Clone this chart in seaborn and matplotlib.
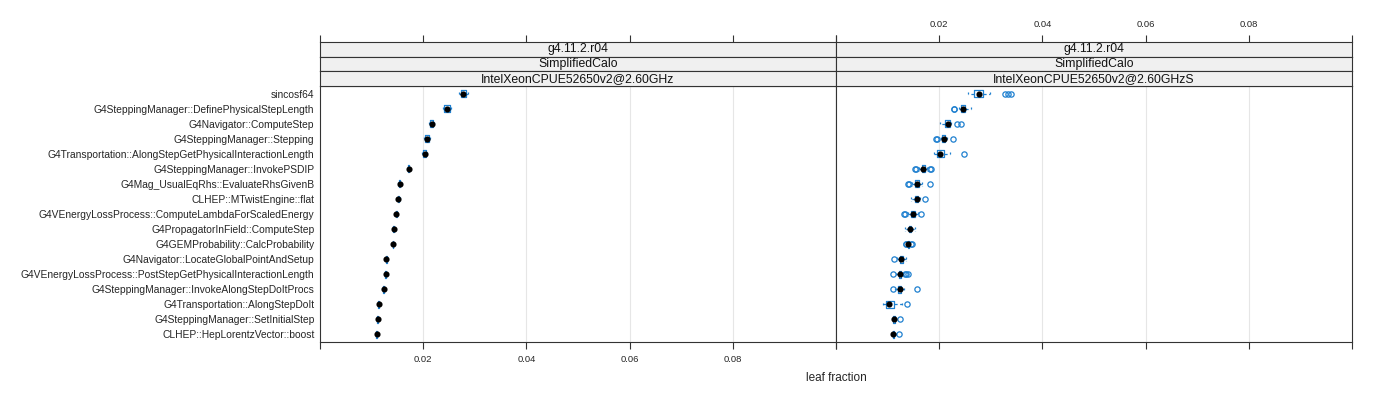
import numpy as np
import pandas as pd
import matplotlib
matplotlib.use("Agg")
import matplotlib.pyplot as plt
import seaborn as sns

# ---------------- data ----------------
functions = [
    "sincosf64",
    "G4SteppingManager::DefinePhysicalStepLength",
    "G4Navigator::ComputeStep",
    "G4SteppingManager::Stepping",
    "G4Transportation::AlongStepGetPhysicalInteractionLength",
    "G4SteppingManager::InvokePSDIP",
    "G4Mag_UsualEqRhs::EvaluateRhsGivenB",
    "CLHEP::MTwistEngine::flat",
    "G4VEnergyLossProcess::ComputeLambdaForScaledEnergy",
    "G4PropagatorInField::ComputeStep",
    "G4GEMProbability::CalcProbability",
    "G4Navigator::LocateGlobalPointAndSetup",
    "G4VEnergyLossProcess::PostStepGetPhysicalInteractionLength",
    "G4SteppingManager::InvokeAlongStepDoItProcs",
    "G4Transportation::AlongStepDoIt",
    "G4SteppingManager::SetInitialStep",
    "CLHEP::HepLorentzVector::boost",
]

strip_version = "g4.11.2.r04"
strip_test = "SimplifiedCalo"
machines = ["IntelXeonCPUE52650v2@2.60GHz", "IntelXeonCPUE52650v2@2.60GHzS"]

# leaf fraction per run, in permille (one list per function, same order)
runs_machine_1 = [
    [27.0, 27.1, 27.3, 27.6, 27.8, 28.0, 28.3, 28.5, 28.6],
    [23.8, 23.9, 24.1, 24.4, 24.6, 24.8, 25.1, 25.3, 25.4],
    [21.2, 21.3, 21.35, 21.5, 21.6, 21.7, 21.85, 21.9, 22.0],
    [20.2, 20.3, 20.4, 20.6, 20.8, 21.0, 21.2, 21.3, 21.4],
    [19.8, 19.9, 19.95, 20.1, 20.3, 20.45, 20.6, 20.7, 20.8],
    [16.95, 17.0, 17.1, 17.15, 17.2, 17.25, 17.3, 17.4, 17.45],
    [15.2, 15.25, 15.33, 15.37, 15.4, 15.43, 15.47, 15.55, 15.6],
    [15.0, 15.05, 15.1, 15.15, 15.2, 15.25, 15.3, 15.35, 15.4],
    [14.6, 14.65, 14.7, 14.75, 14.8, 14.85, 14.9, 14.95, 15.0],
    [14.1, 14.15, 14.22, 14.26, 14.3, 14.34, 14.38, 14.45, 14.5],
    [13.95, 14.0, 14.05, 14.08, 14.1, 14.12, 14.15, 14.2, 14.25],
    [12.6, 12.65, 12.7, 12.75, 12.8, 12.85, 12.9, 12.95, 13.0],
    [12.5, 12.55, 12.62, 12.66, 12.7, 12.74, 12.78, 12.85, 12.9],
    [12.1, 12.15, 12.22, 12.26, 12.3, 12.34, 12.38, 12.45, 12.5],
    [11.15, 11.2, 11.3, 11.35, 11.4, 11.45, 11.5, 11.6, 11.65],
    [11.0, 11.05, 11.12, 11.16, 11.2, 11.24, 11.28, 11.35, 11.4],
    [10.8, 10.85, 10.92, 10.96, 11.0, 11.04, 11.08, 11.15, 11.2],
]

runs_machine_2 = [
    [25.6, 26.0, 26.3, 26.5, 26.7, 27.0, 27.2, 27.4, 27.6, 27.8, 28.0, 28.2, 28.4, 29.8, 32.8, 33.3, 33.9],
    [22.8, 22.9, 23.9, 24.1, 24.2, 24.4, 24.5, 24.6, 24.6, 24.7, 24.8, 24.9, 25.0, 25.3, 25.6, 25.9, 26.1],
    [20.2, 20.6, 20.9, 21.1, 21.2, 21.3, 21.4, 21.5, 21.6, 21.7, 21.8, 21.9, 22.0, 22.1, 22.2, 23.4, 24.2],
    [19.4, 19.6, 20.3, 20.5, 20.6, 20.7, 20.8, 20.85, 20.9, 21.0, 21.05, 21.1, 21.2, 21.3, 21.4, 21.5, 22.6],
    [18.9, 19.1, 19.3, 19.5, 19.6, 19.8, 19.9, 20.0, 20.2, 20.4, 20.6, 20.8, 21.0, 21.3, 21.7, 22.1, 24.7],
    [15.2, 15.4, 16.0, 16.4, 16.6, 16.7, 16.8, 16.85, 16.9, 17.0, 17.05, 17.1, 17.2, 17.4, 17.6, 18.2, 18.3],
    [14.0, 14.15, 14.8, 15.1, 15.3, 15.4, 15.45, 15.5, 15.6, 15.7, 15.8, 15.9, 16.0, 16.2, 16.4, 16.7, 18.2],
    [14.5, 14.8, 15.0, 15.2, 15.3, 15.4, 15.5, 15.55, 15.6, 15.65, 15.7, 15.8, 15.9, 16.0, 16.1, 16.3, 17.2],
    [13.2, 13.4, 14.0, 14.4, 14.6, 14.7, 14.75, 14.8, 14.9, 15.0, 15.05, 15.1, 15.3, 15.5, 15.7, 15.9, 16.4],
    [13.4, 13.6, 13.8, 14.0, 14.1, 14.15, 14.2, 14.25, 14.3, 14.35, 14.4, 14.5, 14.6, 14.8, 15.0, 15.2, 15.3],
    [13.5, 13.6, 13.7, 13.9, 13.95, 13.97, 13.98, 13.99, 14.0, 14.02, 14.05, 14.1, 14.15, 14.2, 14.3, 14.6, 14.7],
    [11.3, 11.8, 12.0, 12.2, 12.3, 12.4, 12.45, 12.5, 12.6, 12.65, 12.7, 12.8, 12.9, 13.1, 13.3, 13.5, 13.6],
    [11.1, 11.6, 11.8, 12.0, 12.1, 12.15, 12.2, 12.25, 12.3, 12.35, 12.4, 12.45, 12.5, 12.7, 13.3, 13.6, 13.9],
    [11.0, 11.4, 11.7, 11.9, 12.0, 12.1, 12.15, 12.2, 12.3, 12.35, 12.4, 12.5, 12.6, 12.8, 13.0, 13.2, 15.6],
    [9.0, 9.3, 9.5, 9.6, 9.7, 9.9, 10.0, 10.2, 10.3, 10.5, 10.7, 11.0, 11.2, 11.6, 12.0, 12.7, 13.7],
    [10.8, 10.85, 10.9, 10.95, 11.0, 11.05, 11.1, 11.15, 11.2, 11.25, 11.3, 11.35, 11.4, 11.5, 11.6, 11.7, 12.4],
    [10.8, 10.9, 10.95, 10.98, 11.0, 11.03, 11.05, 11.08, 11.1, 11.12, 11.15, 11.2, 11.3, 11.4, 11.5, 11.6, 12.1],
]

x_ticks = [0.0, 0.02, 0.04, 0.06, 0.08, 0.10]
x_tick_labels = ["", "0.02", "0.04", "0.06", "0.08", ""]
x_label = "leaf fraction"

# ---------------- tidy table ----------------
records = []
for machine, runs in zip(machines, [runs_machine_1, runs_machine_2]):
    for fn, vals in zip(functions, runs):
        for v in vals:
            records.append({"machine": machine, "function": fn, "leaf_fraction": v / 1000.0})
df = pd.DataFrame(records)

# ---------------- style ----------------
sns.set_theme(style="white")
plt.rcParams["font.family"] = ["Liberation Sans", "DejaVu Sans"]

blue = "#1f80d0"
frame_col = "#333333"
fig = plt.figure(figsize=(14, 4), dpi=100)

panel_w = 0.3686
x0 = 0.2286
pan_bottom, pan_h = 0.145, 0.64
strip_h = 0.03667

for i, machine in enumerate(machines):
    left = x0 + i * panel_w
    ax = fig.add_axes([left, pan_bottom, panel_w, pan_h])
    sub = df[df["machine"] == machine]
    ax.set_axisbelow(True)
    for t in x_ticks[1:-1]:
        ax.axvline(t, color="#e6e6e6", lw=0.8, zorder=0)
    sns.boxplot(
        data=sub, x="leaf_fraction", y="function", order=functions, orient="h",
        width=0.45, fill=False, color=blue, linewidth=0.9, whis=1.5,
        whiskerprops=dict(linestyle=(0, (2.5, 2))),
        capprops=dict(linestyle=(0, (1.5, 1.5))),
        medianprops=dict(visible=False),
        flierprops=dict(marker="o", markersize=3.8, markerfacecolor="none",
                        markeredgecolor=blue, markeredgewidth=0.9),
        ax=ax,
    )
    sns.pointplot(
        data=sub, x="leaf_fraction", y="function", order=functions, orient="h",
        estimator="median", errorbar=None, linestyle="none", color="black",
        markers="o", markersize=2.4, ax=ax,
    )
    ax.set_xlim(0, 0.1)
    ax.set_ylim(len(functions) - 0.5, -0.5)
    ax.set_xticks(x_ticks)
    ax.set_xticklabels(x_tick_labels if i == 0 else [""] * len(x_ticks))
    ax.tick_params(axis="x", direction="out", length=5, width=0.8, color=frame_col,
                   labelsize=6.8, pad=4, bottom=True, top=False)
    ax.tick_params(axis="y", length=0, labelsize=7.4, pad=4)
    if i == 1:
        ax.set_yticklabels([])
    ax.set_xlabel("")
    ax.set_ylabel("")
    for s in ax.spines.values():
        s.set_color(frame_col)
        s.set_linewidth(0.8)

    labels = [strip_version, strip_test, machine]
    for j, txt in enumerate(labels):
        sax = fig.add_axes([left, pan_bottom + pan_h + (2 - j) * strip_h, panel_w, strip_h])
        sax.set_facecolor("#f0f0f0")
        sax.set_xlim(0, 0.1)
        sax.set_ylim(0, 1)
        sax.set_yticks([])
        sax.text(0.05, 0.5, txt, ha="center", va="center", fontsize=8.8, color="#111111")
        for s in sax.spines.values():
            s.set_color(frame_col)
            s.set_linewidth(0.8)
        if j == 0:
            sax.set_xticks(x_ticks)
            sax.set_xticklabels(x_tick_labels if i == 1 else [""] * len(x_ticks))
            sax.tick_params(axis="x", direction="out", length=5, width=0.8, color=frame_col,
                            labelsize=6.8, pad=4, bottom=False, top=True,
                            labelbottom=False, labeltop=True)
        else:
            sax.set_xticks([])

fig.text(x0 + panel_w, 0.055, x_label, ha="center", va="center", fontsize=8.5)

fig.savefig("out.png", dpi=100)
